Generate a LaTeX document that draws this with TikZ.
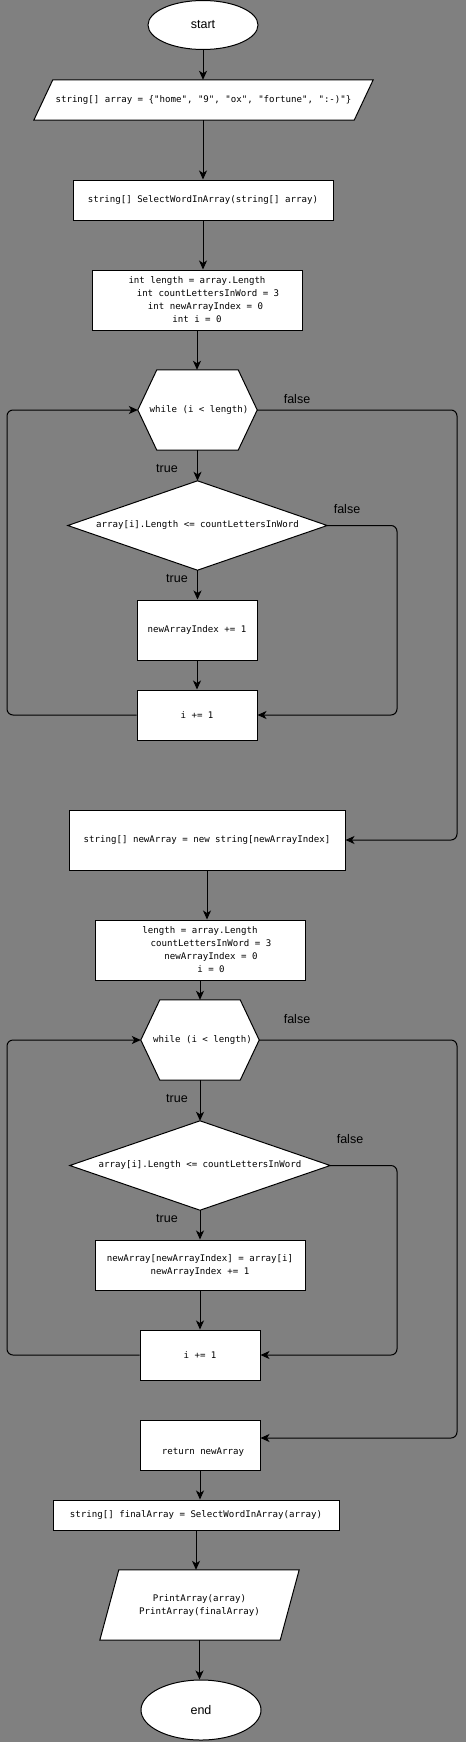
\documentclass[tikz,border=0pt]{standalone}
\usepackage{fontspec}
\setmainfont{Liberation Sans}
\setmonofont{DejaVu Sans Mono}
\usetikzlibrary{shapes.geometric,arrows.meta,calc,backgrounds}
\definecolor{bggray}{HTML}{808080}
\tikzset{
 lbl/.style={font=\fontsize{12.5}{14}\selectfont, inner sep=0pt},
 code/.style={font=\ttfamily\fontsize{9.1}{13}\selectfont, align=center, inner sep=0pt},
 box/.style={code, draw=black, fill=white, line width=1pt},
 ghost/.style={code, draw=none, fill=none},
 term/.style={ellipse, draw, fill=white, line width=1pt, inner sep=0pt, font=\fontsize{12.5}{14}\selectfont},
 arr/.style={line width=1pt, -{Stealth[length=9pt,width=8pt,inset=2.5pt]}},
 shp/.style={draw, fill=white, line width=1pt, line join=miter},
 loopline/.style={arr, rounded corners=6pt},
}
\begin{document}
\begin{tikzpicture}[x=1pt,y=-1pt]
\useasboundingbox (0,0) rectangle (466,1742);
\begin{scope}[on background layer]
\fill[bggray] (0,0) rectangle (466,1742);
\end{scope}

% nodes
\node[term, minimum width=110, minimum height=49] (start) at (203,25) {start};
\node[ghost, minimum width=339, minimum height=40] (in1) at (203.5,100) {string[] array = \{"home", "9", "ox", "fortune", ":-)"\}};
\node[box, minimum width=260, minimum height=40] (func) at (203,200) {string[] SelectWordInArray(string[] array)};
\node[box, minimum width=210, minimum height=60] (init1) at (197,300) {int length = array.Length\\\hspace*{22pt}int countLettersInWord = 3\\\hspace*{17pt}int newArrayIndex = 0\\int i = 0};
\node[ghost, minimum width=119, minimum height=80] (hex1) at (197.5,410) {\hspace*{3pt}while (i < length)};
\node[ghost, minimum width=259, minimum height=89] (dia1) at (197.5,525.5) {array[i].Length <= countLettersInWord};
\node[box, minimum width=120, minimum height=60] (inc1) at (197,630) {newArrayIndex += 1};
\node[box, minimum width=120, minimum height=50] (step1) at (197,715) {i += 1};
\node[box, minimum width=276, minimum height=60] (nA) at (207,840) {string[] newArray = new string[newArrayIndex]};
\node[box, minimum width=210, minimum height=60] (init2) at (200,950) {length = array.Length\\\hspace*{22pt}countLettersInWord = 3\\\hspace*{22pt}newArrayIndex = 0\\\hspace*{22pt}i = 0};
\node[ghost, minimum width=118, minimum height=80] (hex2) at (200,1040) {\hspace*{5pt}while (i < length)};
\node[ghost, minimum width=260, minimum height=89] (dia2) at (200,1165.5) {array[i].Length <= countLettersInWord};
\node[box, minimum width=210, minimum height=50] (asg) at (200,1265) {newArray[newArrayIndex] = array[i]\\newArrayIndex += 1};
\node[box, minimum width=120, minimum height=50] (step2) at (200,1355) {i += 1};
\node[box, minimum width=120, minimum height=50] (ret) at (200,1445) {};
\node[code] (rettext) at (203,1452) {return newArray};
\node[box, minimum width=286, minimum height=30] (fin) at (196,1515) {string[] finalArray = SelectWordInArray(array)};
\node[ghost, minimum width=199, minimum height=70] (out) at (199.5,1605) {PrintArray(array)\\PrintArray(finalArray)};
\node[term, minimum width=120, minimum height=60] (stop) at (201,1710) {end};

% custom shapes drawn behind the text
\begin{scope}[on background layer]
\draw[shp] (in1.south west) -- ($(in1.north west)+(19,0)$) -- (in1.north east) -- ($(in1.south east)+(-19,0)$) -- cycle;
\draw[shp] (hex1.west) -- ($(hex1.north west)+(19,0)$) -- ($(hex1.north east)+(-19,0)$) -- (hex1.east) -- ($(hex1.south east)+(-19,0)$) -- ($(hex1.south west)+(19,0)$) -- cycle;
\draw[shp] (dia1.west) -- (dia1.north) -- (dia1.east) -- (dia1.south) -- cycle;
\draw[shp] (hex2.west) -- ($(hex2.north west)+(19,0)$) -- ($(hex2.north east)+(-19,0)$) -- (hex2.east) -- ($(hex2.south east)+(-19,0)$) -- ($(hex2.south west)+(19,0)$) -- cycle;
\draw[shp] (dia2.west) -- (dia2.north) -- (dia2.east) -- (dia2.south) -- cycle;
\draw[shp] (out.south west) -- ($(out.north west)+(19,0)$) -- (out.north east) -- ($(out.south east)+(-19,0)$) -- cycle;
\end{scope}

% labels
\node[lbl] (f1) at (297,399) {false};
\node[lbl] (t1) at (167,469) {true};
\node[lbl] (f2) at (347,509) {false};
\node[lbl] (t2) at (177,579) {true};
\node[lbl] (f3) at (297,1019) {false};
\node[lbl] (t3) at (177,1099) {true};
\node[lbl] (f4) at (350,1139) {false};
\node[lbl] (t4) at (167,1219) {true};

% loop corner coordinates
\coordinate (L1) at (7,410);
\coordinate (R1) at (457,840);
\coordinate (R2) at (397,715);
\coordinate (L2) at (7,1040);
\coordinate (R3) at (457,1438);
\coordinate (R4) at (397,1355);

% straight connectors
\draw[arr] (start.south) -- (start.south |- in1.north);
\draw[arr] (in1.south -| start.south) -- (func.north);
\draw[arr] (func.south) -- (func.south |- init1.north);
\draw[arr] (init1.south) -- (init1.south |- hex1.north);
\draw[arr] (hex1.south) -- (dia1.north);
\draw[arr] (dia1.south) -- (dia1.south |- inc1.north);
\draw[arr] (inc1.south) -- (step1.north);
\draw[arr] (nA.south) -- (nA.south |- init2.north);
\draw[arr] (init2.south) -- (hex2.north);
\draw[arr] (hex2.south) -- (dia2.north);
\draw[arr] (dia2.south) -- (asg.north);
\draw[arr] (asg.south) -- (step2.north);
\draw[arr] (ret.south) -- (ret.south |- fin.north);
\draw[arr] (fin.south) -- (fin.south |- out.north);
\draw[arr] (out.south) -- (out.south |- stop.north);

% loop connectors
\draw[loopline] (step1.west) -| (L1) -- (hex1.west);
\draw[loopline] (hex1.east) -| (R1) -- (nA.east);
\draw[loopline] (dia1.east) -| (R2) -- (step1.east);
\draw[loopline] (step2.west) -| (L2) -- (hex2.west);
\draw[loopline] (hex2.east) -| (R3) -- (R3 -| ret.east);
\draw[loopline] (dia2.east) -| (R4) -- (step2.east);
\end{tikzpicture}
\end{document}
